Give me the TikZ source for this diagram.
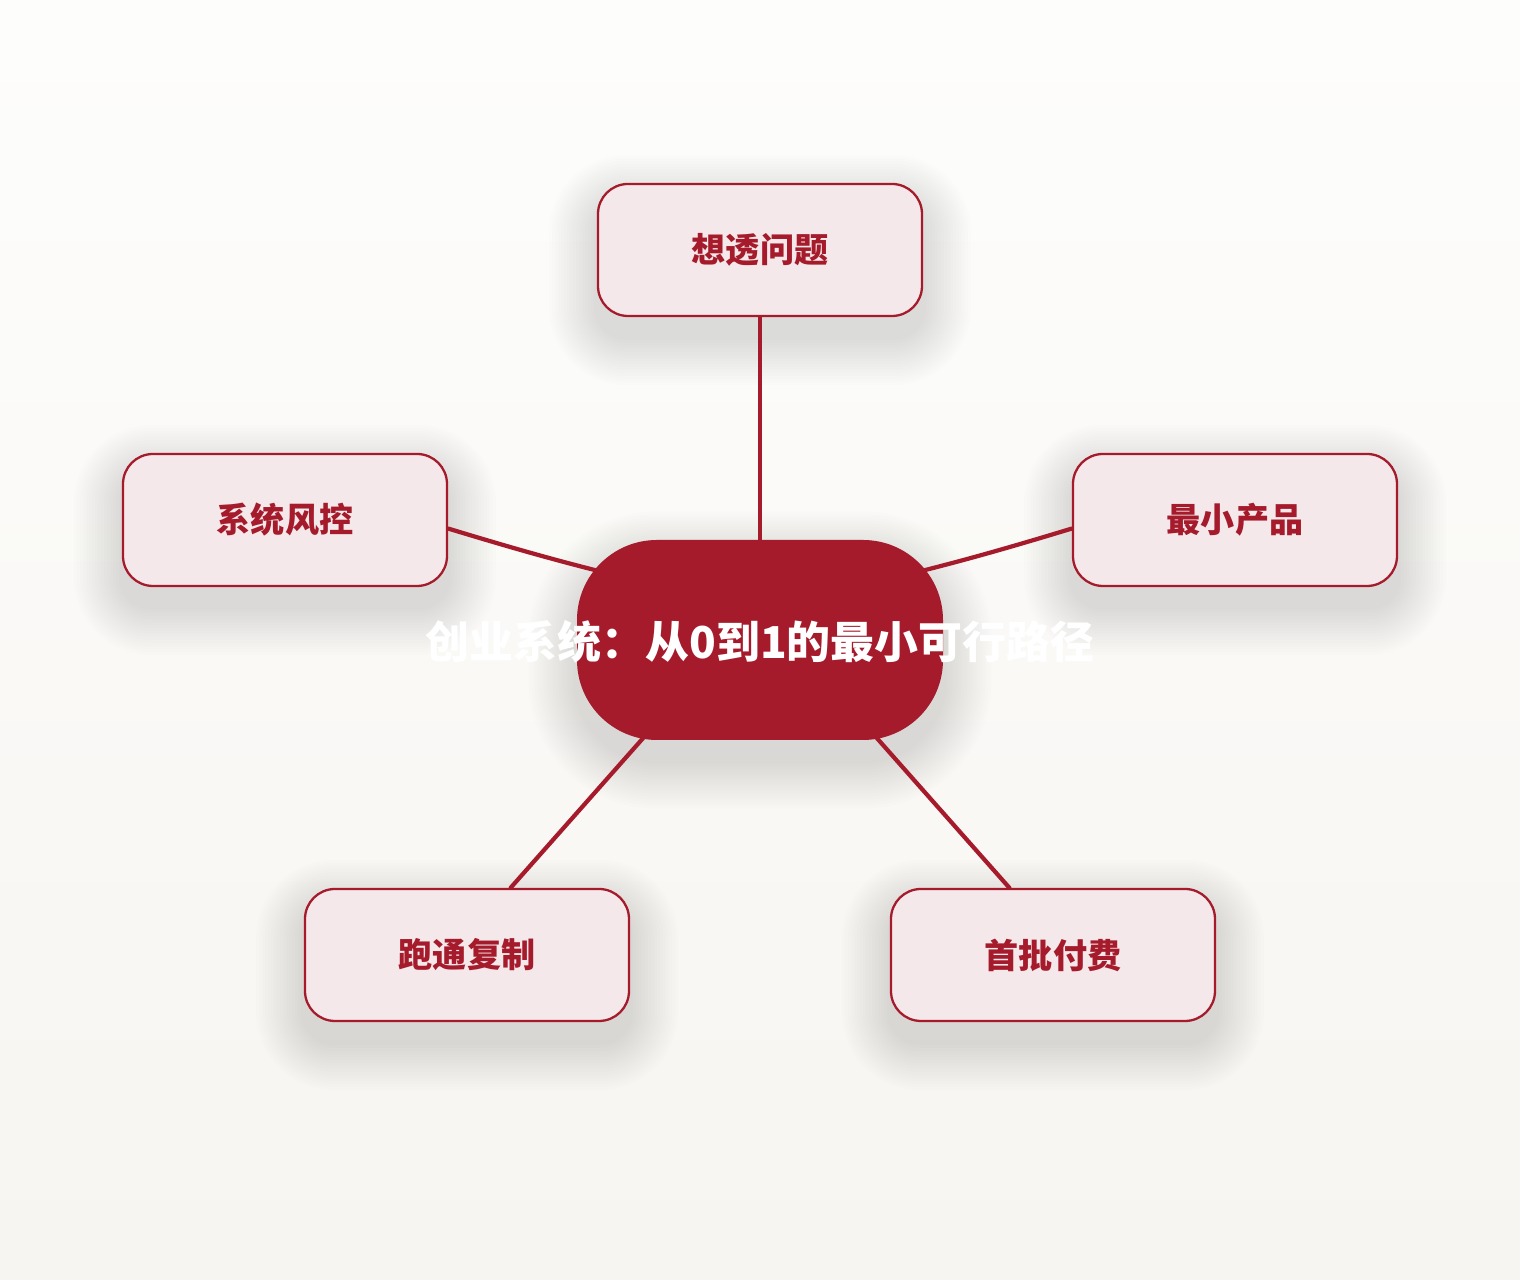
\documentclass[tikz,border=0pt]{standalone}
\usepackage{fontspec}
\usepackage{tikz}
\usetikzlibrary{shapes, positioning, calc, backgrounds}
\newfontfamily\cjk{Noto Sans CJK SC}
\definecolor{brick}{HTML}{A51B2B}
\definecolor{blush}{HTML}{F4E8EB}
\definecolor{bgtop}{HTML}{FDFDFC}
\definecolor{bgbot}{HTML}{F7F5F1}

% soft shadow under a named node
\newcommand{\softshade}[2]{%
	\foreach \i in {1,...,16}
		\fill[black, opacity=0.0085, rounded corners=#2+0.03cm*\i]
			([shift={(-0.03cm*\i,-0.2cm-0.03cm*\i)}]#1.south west) rectangle
			([shift={(0.03cm*\i,-0.2cm+0.03cm*\i)}]#1.north east);}

\begin{document}
\begin{tikzpicture}[
	leaf/.style={draw=brick, line width=0.65pt, fill=blush, rounded corners=0.3cm,
		minimum width=3.24cm, minimum height=1.32cm, text=brick,
		font=\cjk\bfseries\fontsize{9.7pt}{11pt}\selectfont},
	hubbox/.style={fill=brick, rounded corners=0.8cm, minimum width=3.66cm, minimum height=2cm},
	hubtext/.style={text=white, font=\cjk\bfseries\fontsize{12.5pt}{14pt}\selectfont},
	link/.style={draw=brick, line width=1.2pt, line cap=round}]
\useasboundingbox (0,0) rectangle (15.2,-12.8);

% centre
\node[hubbox] (ctr) at (7.6,-6.4) {};
\node[hubtext] (ctrlabel) at (7.6,-6.42) {创业系统：从0到1的最小可行路径};
\coordinate (hub) at ([yshift=0.34cm]ctr.center);

% branches
\node[leaf] (think) at (7.6,-2.5) {想透问题};
\node[leaf] (risk) at (2.85,-5.2) {系统风控};
\node[leaf] (mvp) at (12.35,-5.2) {最小产品};
\node[leaf] (copy) at (4.67,-9.55) {跑通复制};
\node[leaf] (pay) at (10.53,-9.55) {首批付费};

\begin{scope}[on background layer]
\fill[top color=bgtop, bottom color=bgbot] (0,0) rectangle (15.2,-12.8);
\softshade{ctr}{0.8cm}
\foreach \n in {think, risk, mvp, copy, pay}
	\softshade{\n}{0.3cm}
\draw[link] (think.south) -- (ctr.center);
\draw[link] (risk.-3) to[bend right=3] (hub);
\draw[link] (mvp.183) to[bend left=3] (hub);
\draw[link] (copy.57) -- (hub);
\draw[link] (pay.123) -- (hub);
\end{scope}
\end{tikzpicture}
\end{document}
